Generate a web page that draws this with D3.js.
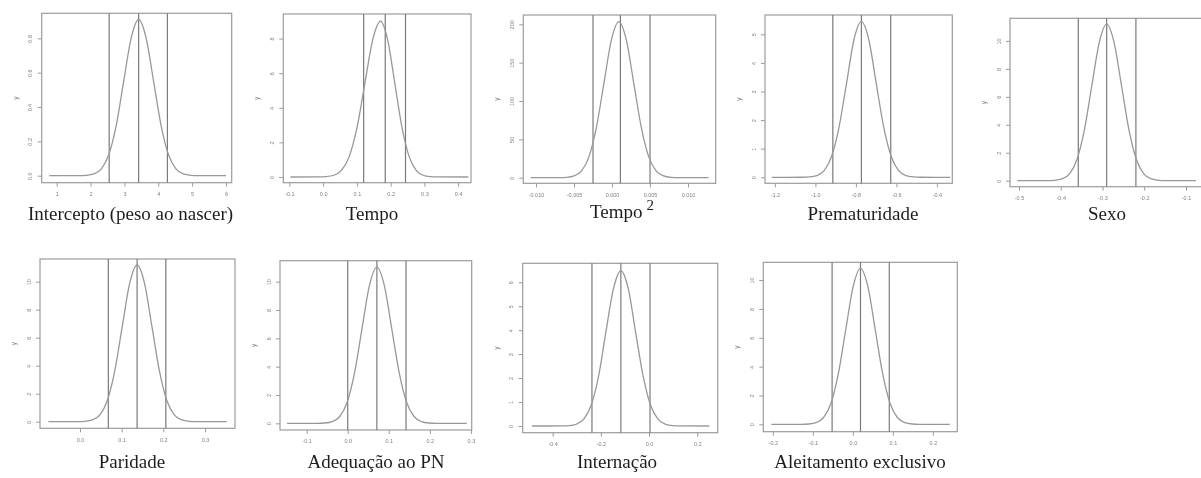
<!DOCTYPE html>
<html><head><meta charset="utf-8">
<script src="https://cdn.jsdelivr.net/npm/d3@7"></script>
<style>body{margin:0;background:#fff}svg{display:block}</style>
</head><body>
<svg id="c" width="1201" height="478"></svg>
<script>
// ---------- data ----------
const panelTitles = ["Intercepto (peso ao nascer)","Tempo","Tempo","Prematuridade","Sexo","Paridade","Adequação ao PN","Internação","Aleitamento exclusivo"];
const titleSuperscripts = ["","","2","","","","","",""];
const xTickLabels = [
  ["1","2","3","4","5","6"],
  ["-0.1","0.0","0.1","0.2","0.3","0.4"],
  ["-0.010","-0.005","0.000","0.005","0.010"],
  ["-1.2","-1.0","-0.8","-0.6","-0.4"],
  ["-0.5","-0.4","-0.3","-0.2","-0.1"],
  ["0.0","0.1","0.2","0.3"],
  ["-0.1","0.0","0.1","0.2","0.3"],
  ["-0.4","-0.2","0.0","0.2"],
  ["-0.2","-0.1","0.0","0.1","0.2"]
];
const yTickLabels = [
  ["0.0","0.2","0.4","0.6","0.8"],
  ["0","2","4","6","8"],
  ["0","50","100","150","200"],
  ["0","1","2","3","4","5"],
  ["0","2","4","6","8","10"],
  ["0","2","4","6","8","10"],
  ["0","2","4","6","8","10"],
  ["0","1","2","3","4","5","6"],
  ["0","2","4","6","8","10"]
];
const xDomains = [[0.557,6.168],[-0.118,0.438],[-0.01167,0.01364],[-1.249,-0.324],[-0.5216,-0.059],[-0.096,0.372],[-0.165,0.302],[-0.5245,0.285],[-0.224,0.261]];
const yDomains = [[-0.041,0.946],[-0.33,9.42],[-7.3,212.1],[-0.21,5.675],[-0.43,11.62],[-0.47,11.62],[-0.47,11.48],[-0.28,6.79],[-0.51,11.23]];
const ciLower = [2.55, 0.120, -0.0025, -0.914, -0.358, 0.068, 0.000, -0.237, -0.052];
const ciMean  = [3.42, 0.184,  0.0011, -0.773, -0.290, 0.137, 0.071, -0.117,  0.019];
const ciUpper = [4.27, 0.244,  0.0050, -0.628, -0.220, 0.206, 0.142,  0.004,  0.091];

const densityIntercepto = [[0.78,0],[1.66,0.0003],[1.88,0.002],[2.10,0.010],[2.32,0.040],[2.54,0.123],[2.76,0.295],[2.98,0.552],[3.20,0.803],[3.42,0.910],[3.64,0.803],[3.86,0.552],[4.08,0.295],[4.30,0.123],[4.52,0.040],[4.74,0.010],[4.96,0.002],[5.18,0.0003],[6.00,0]];
const densityTempo = [[-0.097,0],[-0.014,0.003],[0.009,0.02],[0.032,0.10],[0.055,0.40],[0.078,1.22],[0.101,2.92],[0.124,5.46],[0.147,7.94],[0.170,9.00],[0.191,7.94],[0.212,5.46],[0.233,2.92],[0.254,1.22],[0.275,0.40],[0.296,0.10],[0.317,0.02],[0.338,0.003],[0.43,0]];
const densityTempo2 = [[-0.0107,0],[-0.00694,0.06],[-0.00596,0.45],[-0.00498,2.26],[-0.0040,8.93],[-0.00302,27.5],[-0.00204,66.1],[-0.00106,123.4],[-0.00008,179.6],[0.0009,203.5],[0.00188,179.6],[0.00286,123.4],[0.00384,66.1],[0.00482,27.5],[0.0058,8.93],[0.00678,2.26],[0.00776,0.45],[0.00874,0.06],[0.0127,0]];
const densityPrematuridade = [[-1.216,0],[-1.066,0.0016],[-1.030,0.012],[-0.993,0.060],[-0.956,0.239],[-0.920,0.736],[-0.883,1.766],[-0.846,3.299],[-0.810,4.801],[-0.773,5.44],[-0.736,4.801],[-0.700,3.299],[-0.663,1.766],[-0.626,0.736],[-0.590,0.239],[-0.553,0.060],[-0.516,0.012],[-0.480,0.0016],[-0.334,0]];
const densitySexo = [[-0.504,0],[-0.4324,0.0034],[-0.4146,0.025],[-0.3968,0.124],[-0.379,0.492],[-0.3612,1.515],[-0.3434,3.637],[-0.3256,6.793],[-0.3078,9.884],[-0.290,11.2],[-0.2722,9.884],[-0.2544,6.793],[-0.2366,3.637],[-0.2188,1.515],[-0.201,0.492],[-0.1832,0.124],[-0.1654,0.025],[-0.1476,0.0034],[-0.076,0]];
const densityParidade = [[-0.076,0],[-0.0058,0.0034],[0.012,0.025],[0.0299,0.124],[0.0478,0.491],[0.0656,1.514],[0.0835,3.633],[0.1013,6.787],[0.1192,9.875],[0.137,11.19],[0.1549,9.875],[0.1727,6.787],[0.1906,3.633],[0.2084,1.514],[0.2263,0.491],[0.2441,0.124],[0.262,0.025],[0.2798,0.0034],[0.352,0]];
const densityAdequacao = [[-0.148,0],[-0.0738,0.0033],[-0.0557,0.024],[-0.0376,0.122],[-0.0195,0.484],[-0.0014,1.492],[0.0167,3.581],[0.0348,6.690],[0.0529,9.734],[0.071,11.03],[0.0891,9.734],[0.1072,6.690],[0.1253,3.581],[0.1434,1.492],[0.1615,0.484],[0.1796,0.122],[0.1977,0.024],[0.2158,0.0033],[0.29,0]];
const densityInternacao = [[-0.486,0],[-0.363,0.0019],[-0.332,0.014],[-0.302,0.072],[-0.271,0.284],[-0.240,0.877],[-0.209,2.104],[-0.179,3.930],[-0.148,5.719],[-0.117,6.48],[-0.086,5.719],[-0.056,3.930],[-0.025,2.104],[0.006,0.877],[0.037,0.284],[0.068,0.072],[0.098,0.014],[0.129,0.0019],[0.25,0]];
const densityAleitamento = [[-0.204,0],[-0.1286,0.0032],[-0.1102,0.024],[-0.0917,0.120],[-0.0733,0.475],[-0.0548,1.463],[-0.0364,3.510],[-0.0179,6.556],[0.0006,9.540],[0.019,10.81],[0.0375,9.540],[0.0559,6.556],[0.0744,3.510],[0.0928,1.463],[0.1113,0.475],[0.1297,0.120],[0.1482,0.024],[0.1666,0.0032],[0.242,0]];
const densities = [densityIntercepto,densityTempo,densityTempo2,densityPrematuridade,densitySexo,densityParidade,densityAdequacao,densityInternacao,densityAleitamento];

// ---------- layout (pixel frames: left, top, right, bottom) ----------
const frames = [
  [41.7,13.3,231.7,182.7],[283.3,14,471,182.7],[523.3,15,715.7,183.3],[765,15,952.3,183.3],[1010,18.3,1203.1,186.7],
  [40,259,235,428.3],[280,260.7,471.7,430],[522.7,263.3,717.7,432.7],[763.3,262.3,957.3,431.7]
];
const titleCenters = [130.5,372,622,863,1107,132,376,617,860];
const titleBaselines = [220,220,218,220,220,468,468,468,468];

const svg = d3.select("#c");
svg.append("rect").attr("width",1201).attr("height",478).attr("fill","#fff");
const defs = svg.append("defs");
defs.append("filter").attr("id","soft").append("feGaussianBlur").attr("stdDeviation",0.45);
defs.append("filter").attr("id","softT").append("feGaussianBlur").attr("stdDeviation",0.35);

const boxCol = "#9c9c9c", curveCol = "#989898", vCol = "#7a7a7a", txtCol = "#808080";

frames.forEach((f,i)=>{
  const [l,t,r,b] = f;
  const x = d3.scaleLinear().domain(xDomains[i]).range([l,r]);
  const y = d3.scaleLinear().domain(yDomains[i]).range([b,t]);
  const g = svg.append("g").attr("filter","url(#soft)");

  g.append("rect").attr("x",l).attr("y",t).attr("width",r-l).attr("height",b-t)
    .attr("fill","none").attr("stroke",boxCol).attr("stroke-width",1.2);

  const xa = g.append("g").attr("transform",`translate(0,${b})`)
    .call(d3.axisBottom(x).tickValues(xTickLabels[i].map(Number))
      .tickFormat((d,k)=>xTickLabels[i][k]).tickSize(4).tickPadding(5.5));
  xa.select(".domain").remove();
  xa.selectAll("line").attr("stroke",boxCol).attr("stroke-width",1);
  xa.selectAll("text").attr("fill",txtCol).style("font-family","Liberation Sans, Arial, sans-serif").style("font-size","5.5px");

  const ya = g.append("g").attr("transform",`translate(${l},0)`)
    .call(d3.axisLeft(y).tickValues(yTickLabels[i].map(Number))
      .tickFormat((d,k)=>yTickLabels[i][k]).tickSize(4));
  ya.select(".domain").remove();
  ya.selectAll("line").attr("stroke",boxCol).attr("stroke-width",1);
  ya.selectAll("text").attr("fill",txtCol).style("font-family","Liberation Sans, Arial, sans-serif").style("font-size","5.5px")
    .attr("transform","rotate(-90)").attr("text-anchor","middle").attr("x",0).attr("y",-9.5).attr("dy",null);

  g.append("text").attr("transform",`translate(${l-24},${(t+b)/2}) rotate(-90)`)
    .attr("text-anchor","middle").attr("fill",txtCol)
    .style("font-family","Liberation Sans, Arial, sans-serif").style("font-size","6.5px").text("y");

  [ciLower[i],ciMean[i],ciUpper[i]].forEach(v=>{
    g.append("line").attr("x1",x(v)).attr("x2",x(v)).attr("y1",t).attr("y2",b)
      .attr("stroke",vCol).attr("stroke-width",1.2);
  });

  const line = d3.line().x(d=>x(d[0])).y(d=>y(d[1])).curve(d3.curveMonotoneX);
  g.append("path").datum(densities[i]).attr("d",line).attr("fill","none")
    .attr("stroke",curveCol).attr("stroke-width",1.3);

  const tt = svg.append("text").attr("x",titleCenters[i]).attr("y",titleBaselines[i]).attr("text-anchor","middle")
    .attr("fill","#1e1e1e").attr("filter","url(#softT)")
    .style("font-family","Liberation Serif, Times New Roman, serif").style("font-size","19px");
  tt.append("tspan").text(panelTitles[i]);
  if (titleSuperscripts[i]) {
    tt.append("tspan").attr("dx",4).attr("dy",-8).style("font-size","15px").text(titleSuperscripts[i]);
  }
});
</script>
</body></html>
